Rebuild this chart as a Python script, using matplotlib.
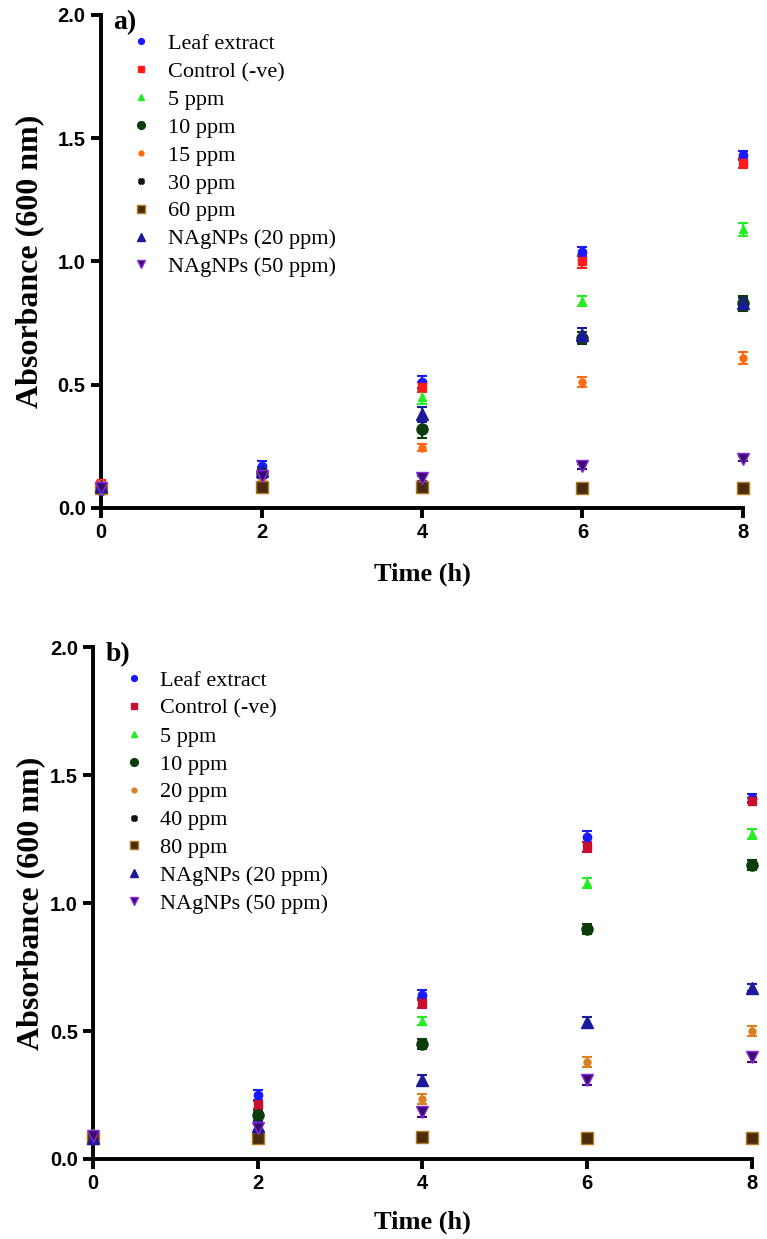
import numpy as np
import matplotlib
matplotlib.use("Agg")
import matplotlib.pyplot as plt

# time points (h)
hours = [0, 2, 4, 6, 8]

# panel a)
labels_a = ["Leaf extract", "Control (-ve)", "5 ppm", "10 ppm", "15 ppm",
            "30 ppm", "60 ppm", "NAgNPs (20 ppm)", "NAgNPs (50 ppm)"]
leaf_a = [0.07, 0.17, 0.51, 1.04, 1.43]
ctrl_a = [0.10, 0.14, 0.49, 1.00, 1.40]
p5_a = [0.08, 0.12, 0.45, 0.84, 1.13]
p10_a = [0.08, 0.14, 0.32, 0.69, 0.83]
p15_a = [0.10, 0.11, 0.245, 0.51, 0.61]
p30_a = [0.08, 0.09, 0.09, 0.08, 0.08]
p60_a = [0.08, 0.085, 0.085, 0.08, 0.08]
nag20_a = [0.09, 0.15, 0.38, 0.70, 0.83]
nag50_a = [0.08, 0.13, 0.12, 0.17, 0.20]
err_a = [
    [0.01, 0.02, 0.025, 0.02, 0.018],
    [0.01, 0.015, 0.02, 0.025, 0.02],
    [0.01, 0.015, 0.03, 0.02, 0.027],
    [0.01, 0.02, 0.035, 0.025, 0.03],
    [0.01, 0.01, 0.015, 0.02, 0.024],
    [0.005, 0.005, 0.005, 0.01, 0.01],
    [0.005, 0.01, 0.01, 0.015, 0.01],
    [0.01, 0.015, 0.03, 0.03, 0.02],
    [0.005, 0.01, 0.01, 0.01, 0.01],
]

# panel b)
labels_b = ["Leaf extract", "Control (-ve)", "5 ppm", "10 ppm", "20 ppm",
            "40 ppm", "80 ppm", "NAgNPs (20 ppm)", "NAgNPs (50 ppm)"]
leaf_b = [0.09, 0.25, 0.64, 1.26, 1.41]
ctrl_b = [0.09, 0.21, 0.61, 1.22, 1.40]
p5_b = [0.10, 0.17, 0.54, 1.08, 1.27]
p10_b = [0.09, 0.17, 0.45, 0.90, 1.15]
p20_b = [0.09, 0.12, 0.235, 0.38, 0.50]
p40_b = [0.08, 0.08, 0.085, 0.08, 0.08]
p80_b = [0.08, 0.08, 0.085, 0.08, 0.08]
nag20_b = [0.08, 0.13, 0.31, 0.535, 0.67]
nag50_b = [0.09, 0.12, 0.185, 0.31, 0.40]
err_b = [
    [0.01, 0.02, 0.02, 0.02, 0.015],
    [0.01, 0.015, 0.02, 0.02, 0.01],
    [0.01, 0.015, 0.015, 0.02, 0.02],
    [0.01, 0.02, 0.02, 0.02, 0.02],
    [0.01, 0.015, 0.02, 0.02, 0.02],
    [0.005, 0.005, 0.005, 0.01, 0.01],
    [0.005, 0.01, 0.01, 0.015, 0.015],
    [0.01, 0.015, 0.02, 0.02, 0.015],
    [0.01, 0.02, 0.02, 0.02, 0.02],
]

colors_a = ["#1a1aff", "#ff1a1a", "#22ee22", "#0a3d0a", "#ff6a10",
            "#111111", "#4a2c0c", "#1a1a9a", "#3b0a6e"]
colors_b = ["#1a1aff", "#c8102e", "#22ee22", "#0a3d0a", "#d98020",
            "#111111", "#4a2c0c", "#1a1a9a", "#3b0a6e"]
edge_b = [None, None, None, None, None, None, "#b07a20", None, "#8a2be2"]
markers = ["o", "s", "^", "o", "o", "X", "s", "^", "v"]
msizes = [6, 6, 6, 8, 5, 6, 8, 8, 8]


def panel(ax, series, errs, labels, colors, tag, lab_x, lab_y, leg_y):
    for vals, e, lab, c, m, s, ec in zip(series, errs, labels, colors,
                                         markers, msizes, edge_b):
        ax.errorbar(hours, vals, yerr=e, fmt="none", ecolor=c, elinewidth=1.5,
                    capsize=3.5, capthick=1.5, clip_on=False, zorder=3)
        ax.plot(hours, vals, linestyle="none", marker=m, ms=s, color=c,
                mec=ec if ec else c, label=lab, clip_on=False, zorder=4)
    ax.set_xlim(0, 8)
    ax.set_ylim(0, 2.0)
    ax.set_xticks([0, 2, 4, 6, 8])
    ax.set_yticks([0.0, 0.5, 1.0, 1.5, 2.0])
    ax.set_yticklabels(["0.0", "0.5", "1.0", "1.5", "2.0"])
    for sp in ["top", "right"]:
        ax.spines[sp].set_visible(False)
    for sp in ["left", "bottom"]:
        ax.spines[sp].set_linewidth(2.8)
    ax.tick_params(width=2.8, length=7, direction="out", pad=4)
    for t in ax.get_xticklabels() + ax.get_yticklabels():
        t.set_fontfamily("Liberation Sans")
        t.set_fontweight("bold")
        t.set_fontsize(14.5)
    ax.set_xlabel("Time (h)", fontfamily="Liberation Serif", fontweight="bold",
                  fontsize=19)
    ax.set_ylabel("Absorbance (600 nm)", fontfamily="Liberation Serif",
                  fontweight="bold", fontsize=23)
    ax.xaxis.set_label_coords(0.5, lab_x)
    ax.yaxis.set_label_coords(lab_y, 0.5)
    ax.text(0.019, 0.985, tag, transform=ax.transAxes, ha="left", va="center",
            fontfamily="Liberation Serif", fontweight="bold", fontsize=20)
    ax.legend(loc="upper left", bbox_to_anchor=(0.045, leg_y), frameon=False,
              borderpad=0, borderaxespad=0, handlelength=1.0,
              handletextpad=0.7, labelspacing=0.33, markerscale=0.7,
              prop={"family": "Liberation Serif", "size": 16})


fig = plt.figure(figsize=(7.67, 12.39), dpi=100)
ax1 = fig.add_axes([0.1317, 0.590, 0.837, 0.398])
ax2 = fig.add_axes([0.1213, 0.0646, 0.859, 0.413])

panel(ax1, [leaf_a, ctrl_a, p5_a, p10_a, p15_a, p30_a, p60_a, nag20_a, nag50_a],
      err_a, labels_a, colors_a, "a)", -0.11, -0.088, 0.962)
panel(ax2, [leaf_b, ctrl_b, p5_b, p10_b, p20_b, p40_b, p80_b, nag20_b, nag50_b],
      err_b, labels_b, colors_b, "b)", -0.10, -0.073, 0.955)

fig.savefig("out.png", dpi=100)
